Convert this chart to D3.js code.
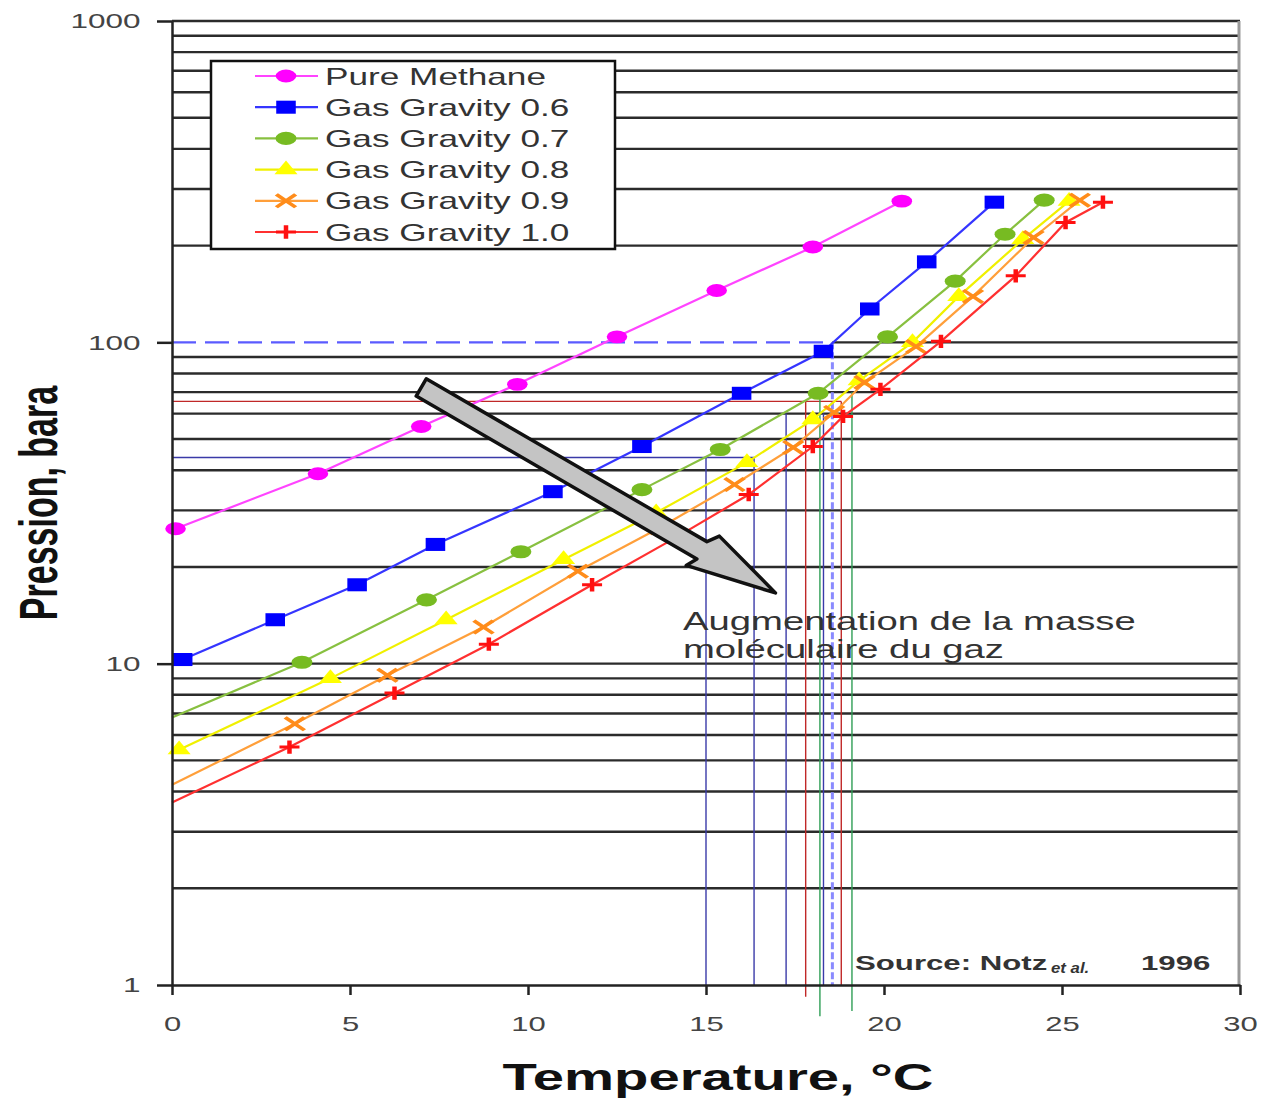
<!DOCTYPE html>
<html>
<head>
<meta charset="utf-8">
<script src="https://cdn.jsdelivr.net/npm/d3@7"></script>
<style>
    body { margin: 0; background: #fff; }
    svg { display: block; font-family: "Liberation Sans", Arial, sans-serif; }
</style>
</head>
<body>
<div id="chart"></div>
<script>
// Series names (legend order)
const seriesNames = ['Pure Methane', 'Gas Gravity 0.6', 'Gas Gravity 0.7', 'Gas Gravity 0.8', 'Gas Gravity 0.9', 'Gas Gravity 1.0'];

// Hydrate curves, temperature (°C) and pressure (bara)
const methaneT = [0.1, 4.1, 7.0, 9.7, 12.5, 15.3, 18.0, 20.5];
const methaneP = [26.3, 39, 54.7, 74, 104, 145, 198, 275];
const gg06T = [0.3, 2.9, 5.2, 7.4, 10.7, 13.2, 16.0, 18.3, 19.6, 21.2, 23.1];
const gg06P = [10.3, 13.7, 17.6, 23.5, 34.3, 47.4, 69.4, 93.8, 127, 178, 273];
const gg07T = [3.65, 7.15, 9.8, 13.2, 15.4, 18.15, 20.1, 22.0, 23.4, 24.5];
const gg07P = [10.1, 15.8, 22.3, 34.8, 46.4, 69.4, 104, 155, 217, 277];
const gg08T = [0.2, 4.45, 7.7, 11.0, 13.6, 16.15, 18.0, 19.3, 20.8, 22.1, 23.9, 25.2];
const gg08P = [5.4, 9.0, 13.7, 21.1, 29.5, 42.3, 57.5, 76, 100, 139, 209, 275];
const gg09T = [3.45, 6.05, 8.75, 11.4, 13.7, 15.8, 17.45, 18.6, 19.45, 20.9, 22.5, 24.2, 25.5];
const gg09P = [6.5, 9.2, 13.0, 19.4, 26.5, 36.1, 47.1, 60.5, 75, 97, 139, 212, 277];
const gg10T = [3.3, 6.25, 8.9, 11.8, 14.1, 16.2, 18.0, 18.85, 19.9, 21.6, 23.7, 25.1, 26.15];
const gg10P = [5.5, 8.1, 11.5, 17.6, 24.5, 33.6, 47.4, 58.8, 71.4, 100.7, 161, 236, 273];

// Where the line meets the T = 0 axis without a marker (null = starts at first marker)
const axisInterceptP = [null, null, 6.8, null, 4.2, 3.7];

// Axis ticks
const tickT = [0, 5, 10, 15, 20, 25, 30];
const tickP = [1, 10, 100, 1000];

// Reading lines drawn on the chart
const readT = 18.55;              // dashed line at 100 bara
const readP = 100;
const hGuideP = [43.8, 65.5];
const hGuideEndT = [16.35, 18.8];
const hGuideColor = ['blue', 'red'];
const vGuideT = [15.0, 16.35, 17.25, 17.8, 18.2, 18.3, 18.8, 19.1];
const vGuideTopP = [43.8, 43.8, 60, 65.5, 70, 60, 65.5, 70];
const vGuideBottomP = [1, 1, 1, 0.92, 0.8, 1, 1, 0.83];
const vGuideColor = ['blue', 'blue', 'blue', 'red', 'green', 'blue', 'red', 'green'];

// Annotation arrow, in data coordinates
const arrowTail = { t: 7.0, p: 72.4 };
const arrowTip = { t: 16.95, p: 16.6 };

class HydrateChart {
    constructor(selector) {
        this.selector = selector;
        this.width = 1268;
        this.height = 1100;

        // the picture is stretched horizontally, so text is too
        this.sx = 1.5;

        this.lineColor = ['#ff44ff', '#3535ff', '#88c040', '#f0f000', '#ff9f3a', '#ff3030'];
        this.markColor = ['#ff00ff', '#0000ff', '#77bb22', '#ffff00', '#ff8c1a', '#ff1010'];
        this.guideColor = { blue: '#3a3aa8', red: '#c02828', green: '#2e9e55' };

        this.series = [
            [methaneT, methaneP], [gg06T, gg06P], [gg07T, gg07P],
            [gg08T, gg08P], [gg09T, gg09P], [gg10T, gg10P]
        ].map(([ts, ps], i) => ({
            name: seriesNames[i],
            index: i,
            points: ts.map((t, j) => ({ t: t, p: ps[j] }))
        }));

        this.initVis();
    }

    initVis() {
        let vis = this;

        vis.svg = d3.select(vis.selector)
            .append('svg')
            .attr('width', vis.width)
            .attr('height', vis.height);

        vis.x = d3.scaleLinear().domain([0, 30]).range([172, 1240]);
        vis.y = d3.scaleLog().domain([1, 1000]).range([985, 21]);

        vis.drawGrid();
        vis.drawGuides();
        vis.drawSeries();
        vis.drawArrow();
        vis.drawAxes();
        vis.drawLegend();
        vis.drawTexts();
    }

    wideText(parent, x, y, str, size, sx) {
        return parent.append('text')
            .attr('transform', `translate(${x},${y}) scale(${sx || this.sx},1)`)
            .attr('font-size', size)
            .text(str);
    }

    drawGrid() {
        let vis = this;
        const [x0, x1] = vis.x.range();

        vis.svg.append('g')
            .selectAll('line')
            .data(vis.y.ticks().filter(p => p > 1))
            .enter()
            .append('line')
            .attr('x1', x0)
            .attr('x2', x1)
            .attr('y1', d => vis.y(d))
            .attr('y2', d => vis.y(d))
            .attr('stroke', '#2b2b2b')
            .attr('stroke-width', 2.4);

        // right frame
        vis.svg.append('line')
            .attr('x1', x1 - 1).attr('x2', x1 - 1)
            .attr('y1', vis.y(1000)).attr('y2', vis.y(1))
            .attr('stroke', '#999')
            .attr('stroke-width', 3);
    }

    drawGuides() {
        let vis = this;
        const g = vis.svg.append('g');

        // dashed reading at 100 bara, covering the grid line
        g.append('line')
            .attr('x1', vis.x(0)).attr('x2', vis.x(readT))
            .attr('y1', vis.y(readP)).attr('y2', vis.y(readP))
            .attr('stroke', '#fff').attr('stroke-width', 4);
        g.append('line')
            .attr('x1', vis.x(0)).attr('x2', vis.x(readT))
            .attr('y1', vis.y(readP)).attr('y2', vis.y(readP))
            .attr('stroke', '#5b5bff').attr('stroke-width', 2.2)
            .attr('stroke-dasharray', '24,9');
        g.append('line')
            .attr('x1', vis.x(readT)).attr('x2', vis.x(readT))
            .attr('y1', vis.y(readP)).attr('y2', vis.y(1))
            .attr('stroke', '#8a8aff').attr('stroke-width', 3)
            .attr('stroke-dasharray', '7,3');

        // thin horizontal guides
        g.selectAll('.hguide')
            .data(hGuideP)
            .enter()
            .append('line')
            .attr('class', 'hguide')
            .attr('x1', vis.x(0))
            .attr('x2', (d, i) => vis.x(hGuideEndT[i]))
            .attr('y1', d => vis.y(d))
            .attr('y2', d => vis.y(d))
            .attr('stroke', (d, i) => vis.guideColor[hGuideColor[i]])
            .attr('stroke-width', 1.4);

        // thin vertical guides
        g.selectAll('.vguide')
            .data(vGuideT)
            .enter()
            .append('line')
            .attr('class', 'vguide')
            .attr('x1', d => vis.x(d))
            .attr('x2', d => vis.x(d))
            .attr('y1', (d, i) => vis.y(vGuideTopP[i]))
            .attr('y2', (d, i) => vis.y(vGuideBottomP[i]))
            .attr('stroke', (d, i) => vis.guideColor[vGuideColor[i]])
            .attr('stroke-width', 1.4);
    }

    markerFor(i) {
        // shape, size, horizontal stretch, filled?
        const specs = [
            { type: d3.symbolCircle, size: 130, sx: 1.6, fill: true },
            { type: d3.symbolSquare, size: 170, sx: 1.5, fill: true },
            { type: d3.symbolCircle, size: 135, sx: 1.6, fill: true },
            { type: d3.symbolTriangle, size: 110, sx: 1.45, fill: true },
            { type: d3.symbolTimes, size: 110, sx: 1.5, fill: false },
            { type: d3.symbolPlus, size: 60, sx: 1.5, fill: false }
        ];
        return specs[i];
    }

    appendMarker(sel, i, cx, cy) {
        const spec = this.markerFor(i);
        sel.append('path')
            .attr('d', d3.symbol().type(spec.type).size(spec.size)())
            .attr('transform', `translate(${cx},${cy}) scale(${spec.sx},1)`)
            .attr('fill', spec.fill ? this.markColor[i] : 'none')
            .attr('stroke', spec.fill ? 'none' : this.markColor[i])
            .attr('stroke-width', spec.fill ? 0 : 3);
    }

    drawSeries() {
        let vis = this;

        const line = d3.line()
            .x(d => vis.x(d.t))
            .y(d => vis.y(d.p));

        const groups = vis.svg.append('g')
            .selectAll('.series')
            .data(vis.series)
            .enter()
            .append('g')
            .attr('class', 'series');

        groups.append('path')
            .attr('d', d => {
                const start = axisInterceptP[d.index];
                const pts = start === null ? d.points : [{ t: 0, p: start }].concat(d.points);
                return line(pts);
            })
            .attr('fill', 'none')
            .attr('stroke', d => vis.lineColor[d.index])
            .attr('stroke-width', 2.2);

        groups.each(function(d) {
            const g = d3.select(this);
            d.points.forEach(pt => vis.appendMarker(g, d.index, vis.x(pt.t), vis.y(pt.p)));
        });
    }

    drawArrow() {
        let vis = this;

        const ax = vis.x(arrowTail.t), ay = vis.y(arrowTail.p);
        const bx = vis.x(arrowTip.t), by = vis.y(arrowTip.p);
        const len = Math.hypot(bx - ax, by - ay);
        const ux = (bx - ax) / len, uy = (by - ay) / len;
        const nx = -uy, ny = ux;
        const w = 10, hw = 21, hl = 85;
        const neckX = bx - ux * hl, neckY = by - uy * hl;

        const pts = [
            [ax - nx * w, ay - ny * w],
            [neckX - nx * w, neckY - ny * w],
            [neckX - nx * hw + ux * 8, neckY - ny * hw + uy * 8],
            [bx, by],
            [neckX + nx * hw - ux * 6, neckY + ny * hw - uy * 6],
            [neckX + nx * w, neckY + ny * w],
            [ax + nx * w, ay + ny * w]
        ];

        vis.svg.append('path')
            .attr('d', 'M' + pts.map(p => p.join(',')).join('L') + 'Z')
            .attr('fill', '#c4c4c4')
            .attr('stroke', '#111')
            .attr('stroke-width', 3.5)
            .attr('stroke-linejoin', 'round');
    }

    drawAxes() {
        let vis = this;

        const yAxis = vis.svg.append('g')
            .attr('transform', `translate(${vis.x(0)},0)`)
            .call(d3.axisLeft(vis.y)
                .tickValues(tickP)
                .tickFormat(d3.format('d'))
                .tickSize(15)
                .tickSizeOuter(0));

        yAxis.selectAll('text')
            .attr('x', -21)
            .attr('transform', `scale(${vis.sx},1)`)
            .attr('font-size', 21)
            .attr('fill', '#444');

        const xAxis = vis.svg.append('g')
            .attr('transform', `translate(0,${vis.y(1)})`)
            .call(d3.axisBottom(vis.x)
                .tickValues(tickT)
                .tickSize(10)
                .tickSizeOuter(0));

        xAxis.selectAll('text')
            .attr('y', 32)
            .attr('transform', 'scale(1.55,1)')
            .attr('font-size', 20)
            .attr('fill', '#444');

        vis.svg.selectAll('.domain, .tick line')
            .attr('stroke', '#222')
            .attr('stroke-width', 2.5);
    }

    drawLegend() {
        let vis = this;

        const legend = vis.svg.append('g');

        legend.append('rect')
            .attr('x', 211)
            .attr('y', 61)
            .attr('width', 404)
            .attr('height', 188)
            .attr('fill', '#fff')
            .attr('stroke', '#111')
            .attr('stroke-width', 2.5);

        vis.series.forEach((s, i) => {
            const cy = 76 + i * 31.2;
            legend.append('line')
                .attr('x1', 255).attr('x2', 318)
                .attr('y1', cy).attr('y2', cy)
                .attr('stroke', vis.lineColor[i])
                .attr('stroke-width', 2.2);
            vis.appendMarker(legend, i, 286, cy);
            vis.wideText(legend, 325, cy + 8.5, s.name, 23, 1.53)
                .attr('fill', '#333');
        });
    }

    drawTexts() {
        let vis = this;

        // axis titles
        vis.wideText(vis.svg, 718, 1090, 'Temperature, °C', 37, 1.52)
            .attr('text-anchor', 'middle')
            .attr('font-weight', 'bold')
            .attr('fill', '#111');

        vis.svg.append('text')
            .attr('transform', `translate(57,503) scale(1.6,1) rotate(-90)`)
            .attr('text-anchor', 'middle')
            .attr('font-size', 34)
            .attr('font-weight', 'bold')
            .attr('fill', '#111')
            .text('Pression, bara');

        // annotation under the arrow
        vis.wideText(vis.svg, 683, 630, 'Augmentation de la masse', 25, 1.53)
            .attr('fill', '#333');
        vis.wideText(vis.svg, 683, 658, 'moléculaire du gaz', 25, 1.53)
            .attr('fill', '#333');

        // source
        vis.wideText(vis.svg, 855, 970, 'Source: Notz', 19.5, 1.6)
            .attr('font-weight', 'bold')
            .attr('fill', '#333');
        vis.wideText(vis.svg, 1051, 973, 'et al.', 14, 1.2)
            .attr('font-style', 'italic')
            .attr('font-weight', 'bold')
            .attr('fill', '#333');
        vis.wideText(vis.svg, 1141, 970, '1996', 19.5, 1.6)
            .attr('font-weight', 'bold')
            .attr('fill', '#333');
    }
}

document.addEventListener('DOMContentLoaded', () => {
    new HydrateChart('#chart');
});
</script>
</body>
</html>
